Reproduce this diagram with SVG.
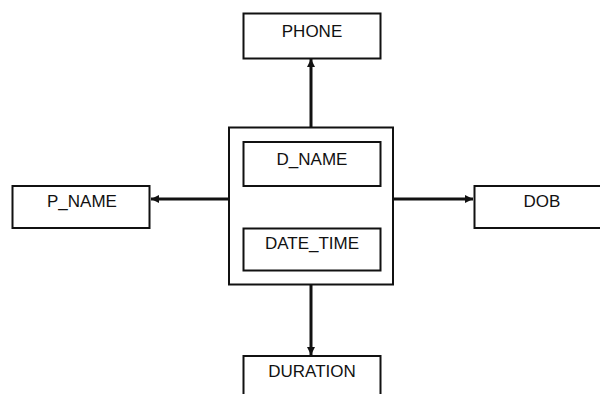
<svg xmlns="http://www.w3.org/2000/svg" width="600" height="394" viewBox="0 0 600 394">
<defs>
<style>
.box{fill:#fff;stroke:#111;stroke-width:2}
.lbl{font-family:"Liberation Sans",Arial,sans-serif;font-size:17px;fill:#111;text-anchor:middle}
.con{stroke:#111;stroke-width:3;fill:none}
</style>
<marker id="ah" markerUnits="userSpaceOnUse" markerWidth="10" markerHeight="10" viewBox="0 0 10 10" refX="9" refY="5" orient="auto">
<path d="M1,1 L9,5 L1,9 Z" fill="#111"/>
</marker>
</defs>
<rect width="600" height="394" fill="#fff"/>
<g id="connectors">
<line class="con" x1="311" y1="127" x2="311" y2="59" marker-end="url(#ah)"/>
<line class="con" x1="311" y1="285" x2="311" y2="355" marker-end="url(#ah)"/>
<line class="con" x1="229" y1="199" x2="151" y2="199" marker-end="url(#ah)"/>
<line class="con" x1="393" y1="199" x2="473" y2="199" marker-end="url(#ah)"/>
</g>
<g id="entity">
<rect class="box" x="229" y="127.5" width="164" height="157"/>
<g id="d_name">
<rect class="box" x="243.5" y="142" width="137" height="44"/>
<text class="lbl" x="312" y="165">D_NAME</text>
</g>
<g id="date_time">
<rect class="box" x="243.5" y="228.5" width="137" height="42"/>
<text class="lbl" x="312" y="249">DATE_TIME</text>
</g>
</g>
<g id="phone">
<rect class="box" x="243.5" y="13.5" width="137" height="45"/>
<text class="lbl" x="312" y="36.5">PHONE</text>
</g>
<g id="p_name">
<rect class="box" x="12.5" y="186" width="137" height="42"/>
<text class="lbl" x="82" y="207">P_NAME</text>
</g>
<g id="dob">
<rect class="box" x="474.5" y="186" width="140" height="42"/>
<text class="lbl" x="542" y="207">DOB</text>
</g>
<g id="duration">
<rect class="box" x="243.5" y="356" width="137" height="50"/>
<text class="lbl" x="312" y="377">DURATION</text>
</g>
</svg>
